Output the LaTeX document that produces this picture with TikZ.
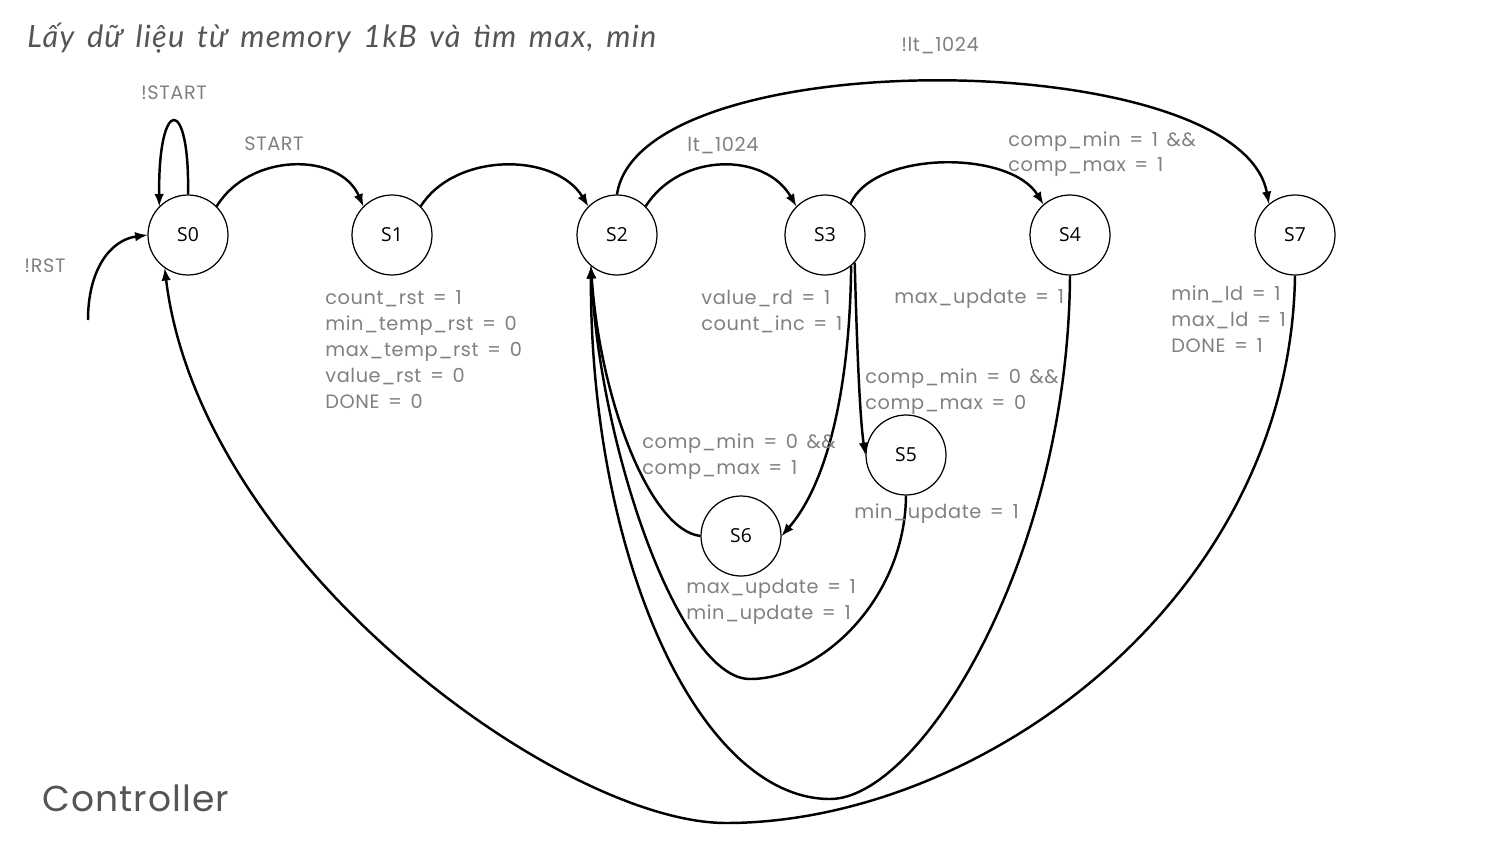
\documentclass[tikz,border=0pt]{standalone}
\usepackage{fontspec}
\setmainfont{Poppins}[LetterSpace=3,WordSpace=1.5]
\newfontfamily\titlefont{Lato}[LetterSpace=4,WordSpace=1.5]
\newfontfamily\statefont{Open Sans}
\definecolor{lblgray}{RGB}{128,128,128}
\definecolor{headgray}{RGB}{85,85,85}
\begin{document}
\begin{tikzpicture}[x=0.02cm,y=-0.02cm,
        state/.style={circle,draw,line width=0.7pt,minimum size=1.6cm,inner sep=0pt,
            font=\statefont\fontsize{11}{13}\selectfont},
        lbl/.style={text=lblgray,font=\fontsize{11}{14.74}\selectfont,align=left,
            anchor=base west,inner sep=0pt},
        cond/.style={text=lblgray,font=\fontsize{11}{14.74}\selectfont,anchor=base,inner sep=0pt},
        trans/.style={->,>=latex,line width=1.4pt}]
        \useasboundingbox (0,0) rectangle (1503,841);
        % states
        \node (s0) at (188,235) [state] {S0};
        \node (s1) at (392,235) [state] {S1};
        \node (s2) at (617,235) [state] {S2};
        \node (s3) at (825,235) [state] {S3};
        \node (s4) at (1070,235) [state] {S4};
        \node (s7) at (1295,235) [state] {S7};
        \node (s5) at (906,455) [state] {S5};
        \node (s6) at (741,536) [state] {S6};
        \coordinate (rst) at (88,320);
        % transitions
        \draw[trans] (rst) .. controls (88,270) and (110,240) .. (s0.west);
        \draw[trans] (s0.north) .. controls (190,95) and (158,95) .. (s0.135);
        \draw[trans] (s0.45) .. controls (250,152) and (340,152) .. (s1.135);
        \draw[trans] (s1.45) .. controls (455,152) and (555,152) .. (s2.135);
        \draw[trans] (s2.45) .. controls (680,152) and (765,152) .. (s3.135);
        \draw[trans] (s3.51) .. controls (875,150) and (1010,150) .. (s4.131);
        \draw[trans] (s2.north) .. controls (640,40) and (1240,45) .. (s7.130);
        \draw[trans] (s3.-43) .. controls (857,350) and (860,420) .. (s5.west);
        \draw[trans] (s3.-50) .. controls (850,380) and (830,480) .. (s6.east);
        \draw[trans] (s6.west) .. controls (650,530) and (600,400) .. (s2.230);
        \draw[trans] (s5.south) .. controls (905,600) and (820,679) .. (750,679)
            .. controls (680,679) and (600,450) .. (s2.230);
        \draw[trans] (s4.south) .. controls (1068,560) and (920,799) .. (830,799)
            .. controls (700,799) and (590,560) .. (s2.230);
        \draw[trans] (s7.south) .. controls (1290,600) and (980,823) .. (726,823)
            .. controls (560,823) and (200,560) .. (s0.235);
        % conditions (multi-line texts sit on the baseline of their last line)
        \node (nrst) at (45,272) [cond] {!RST};
        \node (nstart) at (174,100) [cond] {!START};
        \node (start) at (274,151) [cond] {START};
        \node (lt) at (723,152) [cond] {lt\_1024};
        \node (nlt) at (940,52) [cond] {!lt\_1024};
        \node (c34) at (1008,172) [lbl] {comp\_min = 1 \&\&\\comp\_max = 1};
        \node (c35) at (865,409) [lbl] {comp\_min = 0 \&\&\\comp\_max = 0};
        \node (c36) at (642,474) [lbl] {comp\_min = 0 \&\&\\comp\_max = 1};
        % outputs
        \node (o1) at (325,408) [lbl] {count\_rst = 1\\min\_temp\_rst = 0\\max\_temp\_rst = 0\\value\_rst = 0\\DONE = 0};
        \node (o3) at (701,330) [lbl] {value\_rd = 1\\count\_inc = 1};
        \node (o4) at (894,303) [lbl] {max\_update = 1};
        \node (o7) at (1171,352) [lbl] {min\_ld = 1\\max\_ld = 1\\DONE = 1};
        \node (o5) at (854,518) [lbl] {min\_update = 1};
        \node (o6) at (686,619) [lbl] {max\_update = 1\\min\_update = 1};
        % headings
        \node (title) at (27,48) [anchor=base west,inner sep=0pt,text=headgray,
            font=\titlefont\itshape\fontsize{17.5}{20}\selectfont] {Lấy dữ liệu từ memory 1kB và tìm max, min};
        \node (ctrl) at (42,811) [anchor=base west,inner sep=0pt,text=headgray,
            font=\fontsize{20.5}{24}\selectfont] {Controller};
\end{tikzpicture}
\end{document}
